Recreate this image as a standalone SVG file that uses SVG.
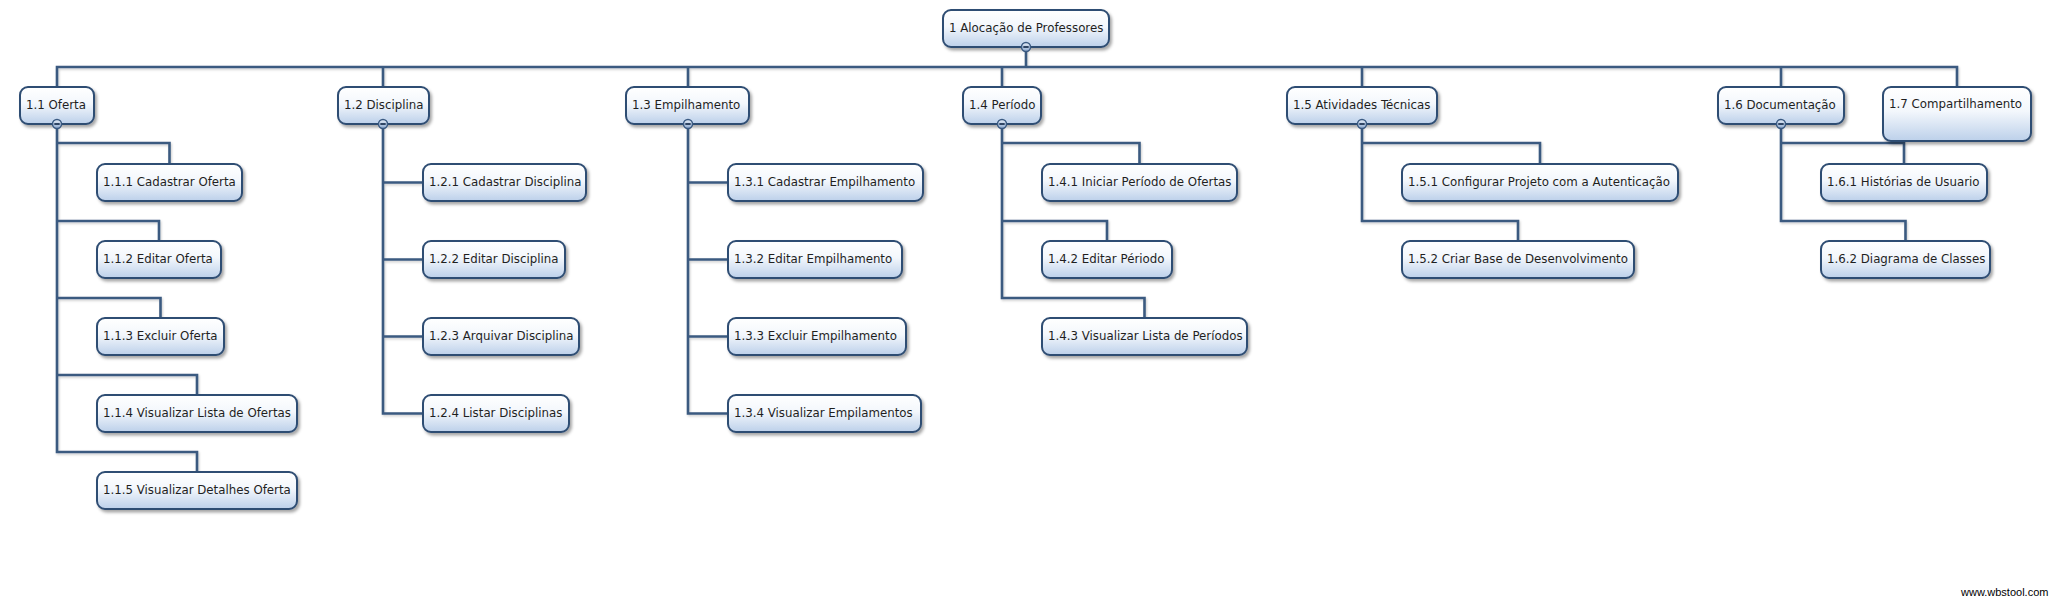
<svg xmlns="http://www.w3.org/2000/svg" width="2050" height="606" viewBox="0 0 2050 606">
<defs>
<linearGradient id="nodeFill" x1="0" y1="0" x2="0" y2="1">
<stop offset="0" stop-color="#ffffff"/>
<stop offset="0.45" stop-color="#f3f7fc"/>
<stop offset="1" stop-color="#bcd0ea"/>
</linearGradient>
<linearGradient id="knobFill" x1="0" y1="0" x2="0" y2="1">
<stop offset="0" stop-color="#e6eef8"/>
<stop offset="1" stop-color="#8eaad0"/>
</linearGradient>
<filter id="shadow" x="-10%" y="-20%" width="130%" height="160%">
<feDropShadow dx="2" dy="2.5" stdDeviation="1.6" flood-color="#000" flood-opacity="0.35"/>
</filter>
<filter id="lineShadow" x="-5%" y="-5%" width="110%" height="110%">
<feDropShadow dx="1" dy="1.5" stdDeviation="1" flood-color="#000" flood-opacity="0.2"/>
</filter>
</defs>
<style>
.box{fill:url(#nodeFill);stroke:#2f4d73;stroke-width:2;filter:url(#shadow)}
.lbl{font-family:"DejaVu Sans","Liberation Sans",sans-serif;font-size:11.8px;fill:#1f1f1f}
.conn{fill:none;stroke:#3b5a80;stroke-width:2.6;stroke-linejoin:miter}
.knob{fill:url(#knobFill);stroke:#3a5a82;stroke-width:1.5}
.minus{stroke:#1f3656;stroke-width:1.8}
.wm{font-family:"Liberation Sans",Arial,sans-serif;font-size:11px;fill:#000}
</style>
<rect width="2050" height="606" fill="#ffffff"/>

<g id="connectors" filter="url(#lineShadow)">
<path class="conn" d="M1026 47 V67"/>
<path class="conn" d="M57 87 V67 H1957 V87"/>
<path class="conn" d="M383 67 V87"/>
<path class="conn" d="M688 67 V87"/>
<path class="conn" d="M1002 67 V87"/>
<path class="conn" d="M1362 67 V87"/>
<path class="conn" d="M1781 67 V87"/>
<!-- 1.1 children -->
<path class="conn" d="M57 124 V452 H197 V472"/>
<path class="conn" d="M57 143 H169.5 V164"/>
<path class="conn" d="M57 221 H159 V241"/>
<path class="conn" d="M57 298 H160.5 V318"/>
<path class="conn" d="M57 375 H197 V395"/>
<!-- 1.2 children -->
<path class="conn" d="M383 124 V413.5 H423"/>
<path class="conn" d="M383 182.5 H423"/>
<path class="conn" d="M383 259.5 H423"/>
<path class="conn" d="M383 336.5 H423"/>
<!-- 1.3 children -->
<path class="conn" d="M688 124 V413.5 H728"/>
<path class="conn" d="M688 182.5 H728"/>
<path class="conn" d="M688 259.5 H728"/>
<path class="conn" d="M688 336.5 H728"/>
<!-- 1.4 children -->
<path class="conn" d="M1002 124 V298 H1144.5 V318"/>
<path class="conn" d="M1002 143 H1139.5 V164"/>
<path class="conn" d="M1002 221 H1107 V241"/>
<!-- 1.5 children -->
<path class="conn" d="M1362 124 V221 H1518 V241"/>
<path class="conn" d="M1362 143 H1540 V164"/>
<!-- 1.6 children -->
<path class="conn" d="M1781 124 V221 H1905.5 V241"/>
<path class="conn" d="M1781 143 H1904 V164"/>
</g>

<g id="node-1">
<rect class="box" x="943" y="10" width="166" height="37" rx="8"/>
<text class="lbl" x="949" y="32">1 Alocação de Professores</text>
<circle class="knob" cx="1026" cy="47" r="4.5"/><line class="minus" x1="1023.3" y1="47" x2="1028.7" y2="47"/>
</g>

<g id="node-1-1">
<rect class="box" x="20" y="87" width="74" height="37" rx="8"/>
<text class="lbl" x="26" y="109">1.1 Oferta</text>
<circle class="knob" cx="57" cy="124" r="4.5"/><line class="minus" x1="54.3" y1="124" x2="59.7" y2="124"/>
</g>
<g id="node-1-1-1"><rect class="box" x="97" y="164" width="145" height="37" rx="8"/><text class="lbl" x="103" y="186">1.1.1 Cadastrar Oferta</text></g>
<g id="node-1-1-2"><rect class="box" x="97" y="241" width="124" height="37" rx="8"/><text class="lbl" x="103" y="263">1.1.2 Editar Oferta</text></g>
<g id="node-1-1-3"><rect class="box" x="97" y="318" width="127" height="37" rx="8"/><text class="lbl" x="103" y="340">1.1.3 Excluir Oferta</text></g>
<g id="node-1-1-4"><rect class="box" x="97" y="395" width="200" height="37" rx="8"/><text class="lbl" x="103" y="417">1.1.4 Visualizar Lista de Ofertas</text></g>
<g id="node-1-1-5"><rect class="box" x="97" y="472" width="200" height="37" rx="8"/><text class="lbl" x="103" y="494">1.1.5 Visualizar Detalhes Oferta</text></g>

<g id="node-1-2">
<rect class="box" x="338" y="87" width="91" height="37" rx="8"/>
<text class="lbl" x="344" y="109">1.2 Disciplina</text>
<circle class="knob" cx="383" cy="124" r="4.5"/><line class="minus" x1="380.3" y1="124" x2="385.7" y2="124"/>
</g>
<g id="node-1-2-1"><rect class="box" x="423" y="164" width="163" height="37" rx="8"/><text class="lbl" x="429" y="186">1.2.1 Cadastrar Disciplina</text></g>
<g id="node-1-2-2"><rect class="box" x="423" y="241" width="142" height="37" rx="8"/><text class="lbl" x="429" y="263">1.2.2 Editar Disciplina</text></g>
<g id="node-1-2-3"><rect class="box" x="423" y="318" width="156" height="37" rx="8"/><text class="lbl" x="429" y="340">1.2.3 Arquivar Disciplina</text></g>
<g id="node-1-2-4"><rect class="box" x="423" y="395" width="146" height="37" rx="8"/><text class="lbl" x="429" y="417">1.2.4 Listar Disciplinas</text></g>

<g id="node-1-3">
<rect class="box" x="626" y="87" width="123" height="37" rx="8"/>
<text class="lbl" x="632" y="109">1.3 Empilhamento</text>
<circle class="knob" cx="688" cy="124" r="4.5"/><line class="minus" x1="685.3" y1="124" x2="690.7" y2="124"/>
</g>
<g id="node-1-3-1"><rect class="box" x="728" y="164" width="195" height="37" rx="8"/><text class="lbl" x="734" y="186">1.3.1 Cadastrar Empilhamento</text></g>
<g id="node-1-3-2"><rect class="box" x="728" y="241" width="174" height="37" rx="8"/><text class="lbl" x="734" y="263">1.3.2 Editar Empilhamento</text></g>
<g id="node-1-3-3"><rect class="box" x="728" y="318" width="178" height="37" rx="8"/><text class="lbl" x="734" y="340">1.3.3 Excluir Empilhamento</text></g>
<g id="node-1-3-4"><rect class="box" x="728" y="395" width="193" height="37" rx="8"/><text class="lbl" x="734" y="417">1.3.4 Visualizar Empilamentos</text></g>

<g id="node-1-4">
<rect class="box" x="963" y="87" width="78" height="37" rx="8"/>
<text class="lbl" x="969" y="109">1.4 Período</text>
<circle class="knob" cx="1002" cy="124" r="4.5"/><line class="minus" x1="999.3" y1="124" x2="1004.7" y2="124"/>
</g>
<g id="node-1-4-1"><rect class="box" x="1042" y="164" width="195" height="37" rx="8"/><text class="lbl" x="1048" y="186">1.4.1 Iniciar Período de Ofertas</text></g>
<g id="node-1-4-2"><rect class="box" x="1042" y="241" width="130" height="37" rx="8"/><text class="lbl" x="1048" y="263">1.4.2 Editar Périodo</text></g>
<g id="node-1-4-3"><rect class="box" x="1042" y="318" width="205" height="37" rx="8"/><text class="lbl" x="1048" y="340">1.4.3 Visualizar Lista de Períodos</text></g>

<g id="node-1-5">
<rect class="box" x="1287" y="87" width="150" height="37" rx="8"/>
<text class="lbl" x="1293" y="109">1.5 Atividades Técnicas</text>
<circle class="knob" cx="1362" cy="124" r="4.5"/><line class="minus" x1="1359.3" y1="124" x2="1364.7" y2="124"/>
</g>
<g id="node-1-5-1"><rect class="box" x="1402" y="164" width="276" height="37" rx="8"/><text class="lbl" x="1408" y="186">1.5.1 Configurar Projeto com a Autenticação</text></g>
<g id="node-1-5-2"><rect class="box" x="1402" y="241" width="232" height="37" rx="8"/><text class="lbl" x="1408" y="263">1.5.2 Criar Base de Desenvolvimento</text></g>

<g id="node-1-6">
<rect class="box" x="1718" y="87" width="126" height="37" rx="8"/>
<text class="lbl" x="1724" y="109">1.6 Documentação</text>
<circle class="knob" cx="1781" cy="124" r="4.5"/><line class="minus" x1="1778.3" y1="124" x2="1783.7" y2="124"/>
</g>
<g id="node-1-6-1"><rect class="box" x="1821" y="164" width="166" height="37" rx="8"/><text class="lbl" x="1827" y="186">1.6.1 Histórias de Usuario</text></g>
<g id="node-1-6-2"><rect class="box" x="1821" y="241" width="169" height="37" rx="8"/><text class="lbl" x="1827" y="263">1.6.2 Diagrama de Classes</text></g>

<g id="node-1-7">
<rect class="box" x="1883" y="87" width="148" height="54" rx="8"/>
<text class="lbl" x="1889" y="108">1.7 Compartilhamento</text>
</g>

<text class="wm" x="1961" y="596">www.wbstool.com</text>
</svg>
